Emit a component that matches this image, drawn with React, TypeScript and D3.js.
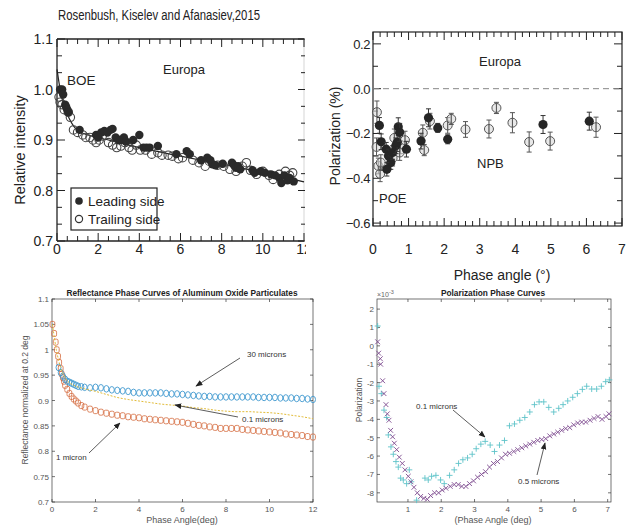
import * as d3 from "d3";
import React from "react";

type P = [number, number];
type PE = [number, number, number];

// ---- top left: Europa relative intensity vs phase angle
const leadingSide: P[] = [
  [0.15, 1.0], [0.25, 1.0], [0.3, 0.99], [0.4, 0.97], [0.45, 0.965], [0.5, 0.96], [0.55, 0.955],
  [1.1, 0.92], [1.9, 0.91], [2.0, 0.905], [2.15, 0.915], [2.3, 0.918], [2.45, 0.915], [2.6, 0.92],
  [2.7, 0.922], [2.85, 0.905], [3.0, 0.9], [3.1, 0.9], [3.25, 0.905], [3.35, 0.897], [3.7, 0.9],
  [4.0, 0.91], [4.2, 0.885], [4.35, 0.885], [4.5, 0.885], [4.9, 0.888], [5.8, 0.872], [6.3, 0.878],
  [6.45, 0.872], [7.0, 0.86], [7.3, 0.865], [7.45, 0.86], [7.55, 0.852], [7.7, 0.85], [8.05, 0.853],
  [8.5, 0.855], [8.6, 0.85], [8.7, 0.845], [8.8, 0.848], [8.9, 0.842], [9.5, 0.84], [9.6, 0.835],
  [9.9, 0.838], [10.1, 0.835], [10.4, 0.832], [10.6, 0.83], [10.8, 0.825], [10.9, 0.815],
  [11.05, 0.83], [11.2, 0.82], [11.3, 0.825], [11.5, 0.818],
];
const trailingSide: P[] = [
  [0.1, 0.985], [0.15, 0.975], [0.25, 0.97], [0.35, 0.96], [0.55, 0.955], [0.65, 0.945], [0.8, 0.92],
  [1.0, 0.915], [1.25, 0.91], [1.4, 0.905], [1.6, 0.905], [1.75, 0.9], [1.9, 0.895], [2.05, 0.9],
  [2.2, 0.908], [2.5, 0.895], [2.7, 0.89], [2.9, 0.885], [3.1, 0.888], [3.3, 0.895], [3.5, 0.885],
  [3.65, 0.88], [3.85, 0.89], [4.05, 0.88], [4.3, 0.88], [4.6, 0.872], [4.9, 0.875], [5.1, 0.87],
  [5.4, 0.87], [5.6, 0.868], [5.9, 0.863], [6.1, 0.865], [6.6, 0.86], [6.9, 0.855], [7.2, 0.848],
  [7.4, 0.858], [7.8, 0.85], [8.1, 0.848], [8.4, 0.842], [8.7, 0.838], [9.0, 0.848], [9.2, 0.855],
  [9.4, 0.84], [9.7, 0.832], [10.0, 0.838], [10.3, 0.83], [10.5, 0.822], [10.8, 0.832],
  [11.1, 0.838], [11.3, 0.83], [11.45, 0.835],
];
const boeFit: P[] = [
  [0, 1.04], [0.2, 0.99], [0.4, 0.962], [0.6, 0.942], [0.8, 0.928], [1.0, 0.919], [1.5, 0.91],
  [2, 0.905], [4, 0.885], [6, 0.868], [8, 0.852], [10, 0.836], [12, 0.817],
];
const intensityTicks = [0.7, 0.8, 0.9, 1.0, 1.1];
const phaseTicksA = [0, 2, 4, 6, 8, 10, 12];

// ---- top right: Europa polarization, [phase, P%, error]
const polLeading: PE[] = [
  [0.18, -0.164, 0.035], [0.23, -0.237, 0.035], [0.37, -0.27, 0.03], [0.44, -0.3, 0.03],
  [0.5, -0.33, 0.03], [0.39, -0.36, 0.03], [0.55, -0.285, 0.03], [0.64, -0.255, 0.035],
  [0.68, -0.24, 0.04], [0.71, -0.17, 0.04], [0.75, -0.195, 0.04], [0.94, -0.27, 0.035],
  [1.35, -0.234, 0.035], [1.56, -0.13, 0.04], [1.82, -0.175, 0.02], [2.1, -0.226, 0.02],
  [4.78, -0.16, 0.04], [6.08, -0.145, 0.04],
];
const polTrailing: PE[] = [
  [0.11, -0.105, 0.05], [0.1, -0.26, 0.04], [0.15, -0.345, 0.035], [0.2, -0.38, 0.035],
  [0.22, -0.33, 0.035], [0.45, -0.3, 0.035], [0.6, -0.22, 0.04], [0.55, -0.31, 0.035],
  [0.77, -0.25, 0.04], [0.75, -0.285, 0.035], [0.9, -0.23, 0.04], [1.4, -0.197, 0.035],
  [1.44, -0.274, 0.025], [1.6, -0.145, 0.035], [2.1, -0.164, 0.035], [2.2, -0.135, 0.025],
  [2.6, -0.182, 0.035], [3.26, -0.18, 0.04], [3.47, -0.086, 0.025], [3.92, -0.152, 0.045],
  [4.39, -0.238, 0.045], [4.98, -0.234, 0.04], [6.27, -0.172, 0.045],
];
const polTicks = [-0.6, -0.4, -0.2, 0, 0.2];
const polTickLabels = ["\u22120.6", "\u22120.4", "\u22120.2", "0.0", "0.2"];
const phaseTicksB = [0, 1, 2, 3, 4, 5, 6, 7];

// ---- bottom left: reflectance phase curves (aluminum oxide)
const refl30: P[] = [
  [0.3, 0.965], [0.4, 0.955], [0.5, 0.948], [0.6, 0.942], [0.7, 0.938], [0.8, 0.936], [0.9, 0.934],
  [1.0, 0.932], [1.1, 0.93], [1.2, 0.928], [1.35, 0.927], [1.5, 0.926], [1.75, 0.925], [2.0, 0.926],
  [2.25, 0.925], [2.5, 0.923], [2.75, 0.921], [3.0, 0.92], [3.25, 0.919], [3.5, 0.918], [3.75, 0.916],
  [4.0, 0.915], [4.25, 0.915], [4.5, 0.915], [4.75, 0.915], [5.0, 0.915], [5.25, 0.914], [5.5, 0.913],
  [5.75, 0.913], [6.0, 0.912], [6.25, 0.911], [6.5, 0.91], [6.75, 0.909], [7.0, 0.908], [7.25, 0.908],
  [7.5, 0.907], [7.75, 0.907], [8.0, 0.907], [8.25, 0.907], [8.5, 0.907], [8.75, 0.907], [9.0, 0.907],
  [9.25, 0.907], [9.5, 0.906], [9.75, 0.906], [10.0, 0.906], [10.25, 0.906], [10.5, 0.905],
  [10.75, 0.905], [11.0, 0.905], [11.25, 0.904], [11.5, 0.904], [11.75, 0.903], [12.0, 0.902],
];
const refl1: P[] = [
  [0.02, 1.05], [0.1, 1.032], [0.17, 1.015], [0.22, 1.0], [0.28, 0.987], [0.33, 0.975], [0.4, 0.963],
  [0.45, 0.952], [0.5, 0.945], [0.55, 0.938], [0.6, 0.93], [0.7, 0.922], [0.8, 0.914], [0.9, 0.908],
  [1.0, 0.903], [1.1, 0.899], [1.2, 0.895], [1.35, 0.89], [1.5, 0.887], [1.75, 0.883], [2.0, 0.88],
  [2.25, 0.877], [2.5, 0.875], [2.75, 0.873], [3.0, 0.871], [3.25, 0.87], [3.5, 0.868], [3.75, 0.867],
  [4.0, 0.866], [4.25, 0.864], [4.5, 0.863], [4.75, 0.862], [5.0, 0.861], [5.25, 0.86], [5.5, 0.859],
  [5.75, 0.858], [6.0, 0.857], [6.25, 0.855], [6.5, 0.853], [6.75, 0.851], [7.0, 0.85], [7.25, 0.848],
  [7.5, 0.847], [7.75, 0.845], [8.0, 0.845], [8.25, 0.845], [8.5, 0.845], [8.75, 0.843], [9.0, 0.842],
  [9.25, 0.841], [9.5, 0.84], [9.75, 0.839], [10.0, 0.838], [10.25, 0.837], [10.5, 0.836],
  [10.75, 0.834], [11.0, 0.833], [11.25, 0.832], [11.5, 0.831], [11.75, 0.829], [12.0, 0.828],
];
const refl01: P[] = [
  [0.02, 1.05], [0.2, 1.0], [0.4, 0.965], [0.6, 0.945], [0.8, 0.935], [1.0, 0.93], [1.5, 0.923],
  [2.0, 0.918], [2.5, 0.912], [3.0, 0.906], [3.5, 0.902], [4.0, 0.899], [4.5, 0.896], [5.0, 0.893],
  [5.5, 0.891], [6.0, 0.889], [6.5, 0.886], [7.0, 0.884], [7.5, 0.881], [8.0, 0.879], [8.5, 0.878],
  [9.0, 0.878], [9.5, 0.877], [10.0, 0.876], [10.5, 0.874], [11.0, 0.871], [11.5, 0.868], [12.0, 0.864],
];
const reflTicks = [0.7, 0.75, 0.8, 0.85, 0.9, 0.95, 1, 1.05, 1.1];
const phaseTicksC = [0, 2, 4, 6, 8, 10, 12];

// ---- bottom right: polarization phase curves (x 1e-3)
const pol01: P[] = [
  [0.09, 1.08], [0.13, -2.2], [0.2, -2.6], [0.28, -3.5], [0.36, -3.9], [0.41, -4.85], [0.49, -5.5],
  [0.56, -5.9], [0.64, -6.3], [0.71, -6.6], [0.78, -7.2], [0.86, -7.3], [0.96, -7.5], [1.04, -6.75],
  [1.1, -7.4], [1.26, -8.4], [1.51, -7.2], [1.61, -7.3], [1.71, -7.1], [1.84, -7.05], [1.98, -7.3],
  [2.09, -7.5], [2.25, -7.05], [2.39, -6.75], [2.52, -6.4], [2.65, -6.2], [2.79, -6.1], [2.93, -5.9],
  [3.05, -5.6], [3.19, -5.35], [3.32, -5.2], [3.47, -5.4], [3.6, -5.75], [3.75, -5.4], [3.9, -5.15],
  [4.05, -4.35], [4.2, -4.25], [4.36, -4.05], [4.51, -3.9], [4.66, -3.6], [4.8, -3.2], [4.94, -3.05],
  [5.08, -3.05], [5.23, -3.35], [5.38, -3.6], [5.53, -3.4], [5.66, -3.2], [5.8, -3.0], [5.95, -2.8],
  [6.09, -2.6], [6.24, -2.37], [6.37, -2.2], [6.52, -2.35], [6.67, -2.35], [6.81, -2.2], [6.94, -1.95],
  [7.05, -1.85],
];
const pol05: P[] = [
  [0.09, 0.22], [0.12, -0.4], [0.17, -0.7], [0.18, -1.0], [0.24, -1.9], [0.28, -2.6], [0.34, -3.2],
  [0.38, -3.7], [0.43, -4.05], [0.48, -4.6], [0.54, -4.95], [0.59, -5.3], [0.66, -5.65], [0.74, -6.06],
  [0.83, -6.4], [0.91, -6.75], [1.01, -7.1], [1.09, -7.4], [1.18, -7.7], [1.28, -8.0], [1.38, -8.2],
  [1.48, -8.3], [1.58, -8.35], [1.68, -8.15], [1.8, -8.0], [1.92, -8.0], [2.03, -7.85], [2.14, -7.75],
  [2.27, -7.65], [2.39, -7.55], [2.51, -7.55], [2.62, -7.65], [2.74, -7.65], [2.85, -7.5], [2.97, -7.35],
  [3.09, -7.15], [3.21, -7.0], [3.33, -6.85], [3.45, -6.6], [3.57, -6.4], [3.69, -6.3], [3.81, -6.1],
  [3.93, -5.9], [4.05, -5.85], [4.18, -5.75], [4.3, -5.65], [4.42, -5.55], [4.54, -5.45], [4.66, -5.35],
  [4.78, -5.25], [4.9, -5.15], [5.02, -5.1], [5.14, -5.05], [5.26, -4.9], [5.38, -4.8], [5.5, -4.7],
  [5.62, -4.6], [5.74, -4.5], [5.86, -4.45], [5.98, -4.3], [6.1, -4.2], [6.22, -4.15], [6.34, -4.15],
  [6.47, -4.05], [6.59, -3.95], [6.71, -3.85], [6.83, -4.0], [6.95, -3.85], [7.04, -3.7],
];
const polMilliTicks = [-8, -7, -6, -5, -4, -3, -2, -1, 0, 1, 2];
const phaseTicksD = [1, 2, 3, 4, 5, 6, 7];

const ARIAL = "'Liberation Sans', Arial, sans-serif";

function PanelA() {
  const x = d3.scaleLinear().domain([0, 12]).range([57, 304]);
  const y = d3.scaleLinear().domain([0.7, 1.1]).range([241, 39]);
  const fit = d3.line<P>().x((d) => x(d[0])).y((d) => y(d[1])).curve(d3.curveMonotoneX)(boeFit);
  const minorX = d3.range(0, 12.01, 0.5);
  const minorY = d3.range(0, 13).map((i) => 0.7 + (i * 0.1) / 3);
  const [x0, x1] = x.range();
  const [y0, y1] = y.range();
  return (
    <g fontFamily={ARIAL} fill="#222">
      <text x={58} y={20} fontSize={14} textLength={202} lengthAdjust="spacingAndGlyphs" fill="#222">
        Rosenbush, Kiselev and Afanasiev,2015
      </text>
      <defs>
        <clipPath id="clipA">
          <rect x={0} y={0} width={306} height={270} />
        </clipPath>
      </defs>
      <line x1={x0} x2={x1} y1={y1} y2={y1} stroke="#222" strokeWidth={1.3} />
      <line x1={x0} x2={x1} y1={y0} y2={y0} stroke="#222" strokeWidth={1.3} />
      <line x1={x0} x2={x0} y1={y0} y2={y1} stroke="#222" strokeWidth={1.3} />
      <line x1={x1} x2={x1} y1={y0} y2={y1} stroke="#bbb" strokeWidth={0.6} />
      {minorX.map((v, i) => {
        const big = v % 2 === 0;
        return (
          <g key={"tx" + i} stroke="#222" strokeWidth={1}>
            <line x1={x(v)} x2={x(v)} y1={y1} y2={y1 + (big ? 8 : 5)} />
            <line x1={x(v)} x2={x(v)} y1={y0} y2={y0 - (big ? 8 : 5)} />
          </g>
        );
      })}
      {minorY.map((v, i) => {
        const big = i % 3 === 0;
        return (
          <g key={"ty" + i} stroke="#222" strokeWidth={1}>
            <line x1={x0} x2={x0 + (big ? 8 : 5)} y1={y(v)} y2={y(v)} />
            <line x1={x1 - (big ? 6 : 3)} x2={x1 + 1} y1={y(v)} y2={y(v)} />
          </g>
        );
      })}
      {intensityTicks.map((v) => (
        <text key={"ly" + v} x={x0 - 4} y={y(v) + 5} textAnchor="end" fontSize={14}>
          {v.toFixed(1)}
        </text>
      ))}
      <g clipPath="url(#clipA)">
        {phaseTicksA.map((v) => (
          <text key={"lx" + v} x={x(v)} y={254} textAnchor="middle" fontSize={14}>
            {v}
          </text>
        ))}
      </g>
      <text transform={`translate(25,150) rotate(-90)`} textAnchor="middle" fontSize={14.5}>
        Relative intensity
      </text>
      <text x={163} y={74} fontSize={13}>Europa</text>
      <text x={67} y={85} fontSize={13.5}>BOE</text>
      <path d={fit || undefined} fill="none" stroke="#222" strokeWidth={1.2} />
      {trailingSide.map((d, i) => (
        <circle key={"tr" + i} cx={x(d[0])} cy={y(d[1])} r={4.2} fill="none" stroke="#444" strokeWidth={1.1} />
      ))}
      {leadingSide.map((d, i) => (
        <circle key={"ld" + i} cx={x(d[0])} cy={y(d[1])} r={4.2} fill="#2a2a2a" />
      ))}
      <rect x={71} y={188} width={86} height={42} fill="#fff" stroke="#222" strokeWidth={1.2} />
      <circle cx={79} cy={201} r={3.8} fill="#2a2a2a" />
      <text x={88} y={206} fontSize={13.5}>Leading side</text>
      <circle cx={79} cy={219} r={3.6} fill="none" stroke="#333" strokeWidth={1.2} />
      <text x={88} y={224} fontSize={13.5}>Trailing side</text>
    </g>
  );
}

function PanelB() {
  const x = d3.scaleLinear().domain([0, 7]).range([373, 622]);
  const y = d3.scaleLinear().domain([-0.613, 0.253]).range([226, 32]);
  const [x0, x1] = x.range();
  const [y0, y1] = y.range();
  const minorX = d3.range(0, 35.01, 1).map((i) => i / 5);
  const minorY = d3.range(-6, 3, 1).map((i) => i / 10);
  return (
    <g fontFamily={ARIAL} fill="#222">
      <rect x={x0} y={y1} width={x1 - x0} height={y0 - y1} fill="none" stroke="#222" strokeWidth={1.2} />
      {minorX.map((v, i) => {
        const big = i % 5 === 0;
        return (
          <g key={"tx" + i} stroke="#222" strokeWidth={1}>
            <line x1={x(v)} x2={x(v)} y1={y1} y2={y1 + (big ? 8 : 5)} />
            <line x1={x(v)} x2={x(v)} y1={y0} y2={y0 - (big ? 8 : 5)} />
          </g>
        );
      })}
      {minorY.map((v, i) => {
        const big = i % 2 === 0;
        return (
          <g key={"ty" + i} stroke="#222" strokeWidth={1}>
            <line x1={x0} x2={x0 + (big ? 8 : 5)} y1={y(v)} y2={y(v)} />
            <line x1={x1} x2={x1 - (big ? 8 : 5)} y1={y(v)} y2={y(v)} />
          </g>
        );
      })}
      {polTicks.map((v, i) => (
        <text key={"ly" + i} x={x0 - 3} y={y(v) + 5} textAnchor="end" fontSize={13} letterSpacing={-0.4}>
          {polTickLabels[i]}
        </text>
      ))}
      {phaseTicksB.map((v) => (
        <text key={"lx" + v} x={x(v)} y={254} textAnchor="middle" fontSize={14}>
          {v}
        </text>
      ))}
      <text x={502} y={280} textAnchor="middle" fontSize={14}>Phase angle (°)</text>
      <text transform={`translate(340,136) rotate(-90)`} textAnchor="middle" fontSize={14}>
        Polarization (%)
      </text>
      <line x1={x0} x2={x1} y1={y(0)} y2={y(0)} stroke="#888" strokeWidth={1} strokeDasharray="6,4" />
      <text x={479} y={66} fontSize={13}>Europa</text>
      <text x={477} y={168} fontSize={13}>NPB</text>
      <text x={379} y={203} fontSize={13}>POE</text>
      {polTrailing.map((d, i) => (
        <g key={"pt" + i} stroke="#555" strokeWidth={1}>
          <line x1={x(d[0])} x2={x(d[0])} y1={y(d[1] - d[2])} y2={y(d[1] + d[2])} />
          <line x1={x(d[0]) - 2.5} x2={x(d[0]) + 2.5} y1={y(d[1] - d[2])} y2={y(d[1] - d[2])} />
          <line x1={x(d[0]) - 2.5} x2={x(d[0]) + 2.5} y1={y(d[1] + d[2])} y2={y(d[1] + d[2])} />
          <circle cx={x(d[0])} cy={y(d[1])} r={4.5} fill="#d8d8d8" fillOpacity={0.6} stroke="#555" />
          <line x1={x(d[0])} x2={x(d[0])} y1={y(d[1]) - 4.5} y2={y(d[1]) + 4.5} />
        </g>
      ))}
      {polLeading.map((d, i) => (
        <g key={"pl" + i} stroke="#333" strokeWidth={1}>
          <line x1={x(d[0])} x2={x(d[0])} y1={y(d[1] - d[2])} y2={y(d[1] + d[2])} />
          <line x1={x(d[0]) - 2.5} x2={x(d[0]) + 2.5} y1={y(d[1] - d[2])} y2={y(d[1] - d[2])} />
          <line x1={x(d[0]) - 2.5} x2={x(d[0]) + 2.5} y1={y(d[1] + d[2])} y2={y(d[1] + d[2])} />
          <circle cx={x(d[0])} cy={y(d[1])} r={4.6} fill="#262626" stroke="none" />
        </g>
      ))}
    </g>
  );
}

function MatlabBox({ x, y, xt, yt, fmtY }: {
  x: d3.ScaleLinear<number, number>; y: d3.ScaleLinear<number, number>;
  xt: number[]; yt: number[]; fmtY: (v: number) => string;
}) {
  const [x0, x1] = x.range();
  const [y0, y1] = y.range();
  return (
    <g fontFamily={ARIAL}>
      <rect x={x0} y={y1} width={x1 - x0} height={y0 - y1} fill="#fff" stroke="#3a3a3a" strokeWidth={0.7} />
      {xt.map((v) => (
        <g key={"x" + v}>
          <line x1={x(v)} x2={x(v)} y1={y0} y2={y0 - 3} stroke="#3a3a3a" strokeWidth={0.7} />
          <line x1={x(v)} x2={x(v)} y1={y1} y2={y1 + 3} stroke="#3a3a3a" strokeWidth={0.7} />
          <text x={x(v)} y={y0 + 10} textAnchor="middle" fontSize={8} fill="#555">{v}</text>
        </g>
      ))}
      {yt.map((v) => (
        <g key={"y" + v}>
          <line x1={x0} x2={x0 + 3} y1={y(v)} y2={y(v)} stroke="#3a3a3a" strokeWidth={0.7} />
          <line x1={x1} x2={x1 - 3} y1={y(v)} y2={y(v)} stroke="#3a3a3a" strokeWidth={0.7} />
          <text x={x0 - 3} y={y(v) + 3} textAnchor="end" fontSize={8} fill="#555">{fmtY(v)}</text>
        </g>
      ))}
    </g>
  );
}

function PanelC() {
  const x = d3.scaleLinear().domain([0, 12]).range([52, 313]);
  const y = d3.scaleLinear().domain([0.7, 1.1]).range([502, 299]);
  const dashed = d3.line<P>().x((d) => x(d[0])).y((d) => y(d[1])).curve(d3.curveMonotoneX)(refl01);
  return (
    <g>
      <MatlabBox x={x} y={y} xt={phaseTicksC} yt={reflTicks} fmtY={(v) => String(+v.toFixed(2))} />
      <text x={182} y={296} textAnchor="middle" fontFamily={ARIAL} fontWeight="bold" fontSize={8.3} fill="#222">
        Reflectance Phase Curves of Aluminum Oxide Particulates
      </text>
      <text x={182} y={523} textAnchor="middle" fontFamily={ARIAL} fontSize={9} fill="#555">Phase Angle(deg)</text>
      <text transform="translate(28,400) rotate(-90)" textAnchor="middle" fontFamily={ARIAL} fontSize={8.5} fill="#555">
        Reflectance normalized at 0.2 deg
      </text>
      {refl1.map((d, i) => (
        <rect key={"o" + i} x={x(d[0]) - 2.4} y={y(d[1]) - 3} width={4.8} height={6} rx={1.6}
          fill="none" stroke="#d4693c" strokeWidth={0.8} />
      ))}
      {refl30.map((d, i) => (
        <ellipse key={"b" + i} cx={x(d[0])} cy={y(d[1])} rx={2.5} ry={3.3}
          fill="none" stroke="#3f98cf" strokeWidth={0.9} />
      ))}
      <path d={dashed || undefined} fill="none" stroke="#e2bc3a" strokeWidth={1} strokeDasharray="2,1.5" />
      <g fontFamily={ARIAL} fontSize={8} fill="#333">
        <text x={247} y={357}>30 microns</text>
        <text x={242} y={422}>0.1 microns</text>
        <text x={56} y={460}>1 micron</text>
      </g>
      <g stroke="#333" strokeWidth={0.8} markerEnd="url(#arrowHead)">
        <line x1={240} y1={358} x2={196} y2={386} />
        <line x1={238} y1={417} x2={175} y2={405} />
        <line x1={89} y1={453} x2={120} y2={423} />
      </g>
    </g>
  );
}

function PanelD() {
  const x = d3.scaleLinear().domain([0.07, 7.1]).range([377, 611]);
  const y = d3.scaleLinear().domain([-8.5, 2.55]).range([502, 299]);
  return (
    <g>
      <MatlabBox x={x} y={y} xt={phaseTicksD} yt={polMilliTicks} fmtY={(v) => String(v)} />
      <text x={493} y={296} textAnchor="middle" fontFamily={ARIAL} fontWeight="bold" fontSize={8.3} fill="#222">
        Polarization Phase Curves
      </text>
      <text x={377} y={297} fontFamily={ARIAL} fontSize={7} fill="#666">
        {"\u00d710"}<tspan dy={-3} fontSize={5.5}>-3</tspan>
      </text>
      <text x={493} y={523} textAnchor="middle" fontFamily={ARIAL} fontSize={9} fill="#555">(Phase Angle (deg)</text>
      <text transform="translate(362,400) rotate(-90)" textAnchor="middle" fontFamily={ARIAL} fontSize={8.5} fill="#555">
        Polarization
      </text>
      {pol01.map((d, i) => (
        <g key={"c" + i} stroke="#5ec3c8" strokeWidth={0.9}>
          <line x1={x(d[0]) - 3} x2={x(d[0]) + 3} y1={y(d[1])} y2={y(d[1])} />
          <line x1={x(d[0])} x2={x(d[0])} y1={y(d[1]) - 3} y2={y(d[1]) + 3} />
        </g>
      ))}
      {pol05.map((d, i) => (
        <g key={"p" + i} stroke="#7d4a8f" strokeWidth={0.9}>
          <line x1={x(d[0]) - 2.4} x2={x(d[0]) + 2.4} y1={y(d[1]) - 2.4} y2={y(d[1]) + 2.4} />
          <line x1={x(d[0]) - 2.4} x2={x(d[0]) + 2.4} y1={y(d[1]) + 2.4} y2={y(d[1]) - 2.4} />
        </g>
      ))}
      <g fontFamily={ARIAL} fontSize={8} fill="#333">
        <text x={416} y={409}>0.1 microns</text>
        <text x={518} y={484}>0.5 microns</text>
      </g>
      <g stroke="#333" strokeWidth={0.8} markerEnd="url(#arrowHead)">
        <line x1={453} y1={410} x2={485} y2={437} />
        <line x1={537} y1={475} x2={545} y2={443} />
      </g>
    </g>
  );
}

export default function App() {
  return (
    <svg width={629} height={527} style={{ position: "absolute", left: 0, top: 0, background: "#fff" }}>
      <defs>
        <marker id="arrowHead" viewBox="0 0 10 10" refX={9} refY={5} markerWidth={7} markerHeight={7}
          markerUnits="userSpaceOnUse" orient="auto">
          <path d="M0,1 L10,5 L0,9 z" fill="#222" />
        </marker>
      </defs>
      <rect x={0} y={0} width={629} height={527} fill="#fff" />
      <PanelA />
      <PanelB />
      <PanelC />
      <PanelD />
    </svg>
  );
}
